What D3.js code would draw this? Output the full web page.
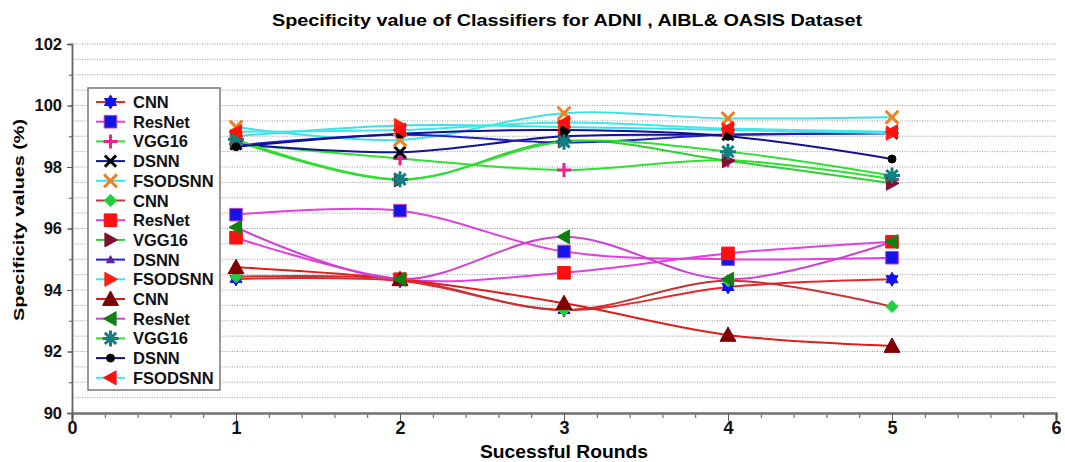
<!DOCTYPE html>
<html>
<head>
<meta charset="utf-8">
<script src="https://cdn.jsdelivr.net/npm/d3@7"></script>
<style>
  body { margin: 0; background: #fff; }
  svg text { font-family: "Liberation Sans", Arial, sans-serif; font-weight: bold; }
</style>
</head>
<body>
<svg id="chart" width="1065" height="462"></svg>
<script>
// rounds on the x axis
var rounds = [1, 2, 3, 4, 5];
var xTicks = [0, 1, 2, 3, 4, 5, 6];
var yTicks = [90, 92, 94, 96, 98, 100, 102];

var legendNames = ["CNN", "ResNet", "VGG16", "DSNN", "FSODSNN",
                   "CNN", "ResNet", "VGG16", "DSNN", "FSODSNN",
                   "CNN", "ResNet", "VGG16", "DSNN", "FSODSNN"];

// first set
var cnn1     = [94.36, 94.30, 93.35, 94.10, 94.35];
var resnet1  = [96.45, 96.58, 95.25, 95.00, 95.05];
var vgg1     = [98.75, 98.28, 97.90, 98.22, 97.60];
var dsnn1    = [98.75, 98.48, 99.00, 99.05, 99.10];
var fsodsnn1 = [99.30, 98.88, 99.75, 99.58, 99.62];
// second set
var cnn2     = [94.43, 94.35, 93.35, 94.30, 93.46];
var resnet2  = [95.70, 94.35, 94.56, 95.19, 95.57];
var vgg2     = [98.85, 97.58, 98.85, 98.20, 97.47];
var dsnn2    = [98.70, 99.05, 98.80, 99.05, 99.10];
var fsodsnn2 = [99.00, 99.35, 99.30, 99.20, 99.10];
// third set
var cnn3     = [94.74, 94.35, 93.57, 92.54, 92.18];
var resnet3  = [96.04, 94.35, 95.73, 94.35, 95.57];
var vgg3     = [98.90, 97.60, 98.82, 98.50, 97.72];
var dsnn3    = [98.66, 99.08, 99.20, 99.00, 98.26];
var fsodsnn3 = [99.15, 99.20, 99.45, 99.25, 99.15];

var allValues = [cnn1, resnet1, vgg1, dsnn1, fsodsnn1,
                 cnn2, resnet2, vgg2, dsnn2, fsodsnn2,
                 cnn3, resnet3, vgg3, dsnn3, fsodsnn3];

// line colour, marker type, marker fill, marker stroke
var styles = [
  {line: "#e8262b", mark: "star",    fill: "#1010f0", stroke: "#1010f0", r: 7},
  {line: "#e040e0", mark: "square",  fill: "#1414e8", stroke: "#c040c0", r: 7},
  {line: "#30e030", mark: "plus",    fill: "none",    stroke: "#f0208a", r: 7},
  {line: "#141490", mark: "x",       fill: "none",    stroke: "#000000", r: 7},
  {line: "#40e0e8", mark: "x",       fill: "none",    stroke: "#f08020", r: 8},
  {line: "#c83232", mark: "diamond", fill: "#20d040", stroke: "#20d040", r: 6},
  {line: "#e040e0", mark: "square",  fill: "#ff1010", stroke: "#ff1010", r: 7},
  {line: "#30d030", mark: "tright",  fill: "#801030", stroke: "#801030", r: 7},
  {line: "#2020d0", mark: "tup",     fill: "#6020a0", stroke: "#6020a0", r: 4},
  {line: "#40e0e8", mark: "tright",  fill: "#ff2010", stroke: "#ff2010", r: 7},
  {line: "#e01c1c", mark: "tup",     fill: "#800000", stroke: "#800000", r: 8},
  {line: "#d040d0", mark: "tleft",   fill: "#108010", stroke: "#108010", r: 7},
  {line: "#30e030", mark: "aster",   fill: "none",    stroke: "#108080", r: 8},
  {line: "#101090", mark: "circle",  fill: "#000000", stroke: "#000000", r: 4},
  {line: "#40e8e8", mark: "tleft",   fill: "#ff1010", stroke: "#ff1010", r: 7}
];

var svg = d3.select("#chart");
var margin = {left: 72, right: 1056, top: 44, bottom: 413};

var x = d3.scaleLinear().domain([0, 6]).range([margin.left, margin.right]);
var y = d3.scaleLinear().domain([90, 102]).range([margin.bottom, margin.top]);

// grid (dotted, every 0.5)
svg.append("g")
   .selectAll("line")
   .data(d3.range(90.5, 102.01, 0.5))
   .enter()
   .append("line")
   .attr("x1", margin.left)
   .attr("x2", margin.right)
   .attr("y1", d => y(d))
   .attr("y2", d => y(d))
   .attr("stroke", "#9a9a9a")
   .attr("stroke-width", 1)
   .attr("stroke-dasharray", "1,1.5");

// axes
var yMinor = svg.append("g")
   .attr("transform", "translate(" + margin.left + ",0)")
   .call(d3.axisLeft(y).tickValues(d3.range(90, 102.01, 1)).tickSize(3).tickFormat(""));
var yAxis = svg.append("g")
   .attr("transform", "translate(" + margin.left + ",0)")
   .call(d3.axisLeft(y).tickValues(yTicks).tickSize(5).tickFormat(d3.format("d")));
yAxis.selectAll("text").attr("font-size", 16.5).attr("fill", "#111").attr("dx", "-2");

var xMinor = svg.append("g")
   .attr("transform", "translate(0," + margin.bottom + ")")
   .call(d3.axisBottom(x).tickValues(d3.range(0, 6.001, 0.2)).tickSize(5).tickFormat(""));
var xAxis = svg.append("g")
   .attr("transform", "translate(0," + margin.bottom + ")")
   .call(d3.axisBottom(x).tickValues(xTicks).tickSize(8).tickFormat(d3.format("d")));
xAxis.selectAll("text").attr("font-size", 18).attr("fill", "#111").attr("dy", "0.55em");

[yMinor, yAxis, xMinor, xAxis].forEach(a => {
    a.selectAll(".domain").attr("stroke", "#666").attr("stroke-width", 1.5);
    a.selectAll(".tick line").attr("stroke", "#555");
});
xAxis.select(".domain").attr("stroke-width", 2.5).attr("stroke", "#777");

// title and axis titles
svg.append("text")
   .attr("x", 567).attr("y", 26)
   .attr("text-anchor", "middle")
   .attr("font-size", 16.5)
   .attr("textLength", 590).attr("lengthAdjust", "spacingAndGlyphs")
   .text("Specificity value of Classifiers for ADNI , AIBL& OASIS  Dataset");

svg.append("text")
   .attr("x", 564).attr("y", 458)
   .attr("text-anchor", "middle")
   .attr("font-size", 18)
   .attr("textLength", 168).attr("lengthAdjust", "spacingAndGlyphs")
   .text("Sucessful Rounds");

svg.append("text")
   .attr("transform", "translate(24,220) rotate(-90)")
   .attr("text-anchor", "middle")
   .attr("font-size", 15)
   .attr("textLength", 202).attr("lengthAdjust", "spacingAndGlyphs")
   .text("Specificity values  (%)");

// marker paths
function markerPath(type, r) {
    var p = d3.path(), i, a;
    if (type === "square") {
        p.rect(-r * 0.9, -r * 0.9, r * 1.8, r * 1.8);
    } else if (type === "diamond") {
        p.moveTo(0, -r); p.lineTo(r, 0); p.lineTo(0, r); p.lineTo(-r, 0); p.closePath();
    } else if (type === "tup") {
        p.moveTo(0, -r); p.lineTo(r, r * 0.8); p.lineTo(-r, r * 0.8); p.closePath();
    } else if (type === "tright") {
        p.moveTo(r, 0); p.lineTo(-r * 0.8, -r); p.lineTo(-r * 0.8, r); p.closePath();
    } else if (type === "tleft") {
        p.moveTo(-r, 0); p.lineTo(r * 0.8, -r); p.lineTo(r * 0.8, r); p.closePath();
    } else if (type === "star") {
        p.moveTo(0, -r); p.lineTo(r * 0.866, r / 2); p.lineTo(-r * 0.866, r / 2); p.closePath();
        p.moveTo(0, r); p.lineTo(-r * 0.866, -r / 2); p.lineTo(r * 0.866, -r / 2); p.closePath();
    } else if (type === "circle") {
        p.arc(0, 0, r, 0, 2 * Math.PI);
    } else if (type === "plus") {
        p.moveTo(-r, 0); p.lineTo(r, 0); p.moveTo(0, -r); p.lineTo(0, r);
    } else if (type === "x") {
        p.moveTo(-r * 0.8, -r * 0.8); p.lineTo(r * 0.8, r * 0.8);
        p.moveTo(-r * 0.8, r * 0.8); p.lineTo(r * 0.8, -r * 0.8);
    } else if (type === "aster") {
        for (i = 0; i < 8; i++) {
            a = i * Math.PI / 4;
            p.moveTo(0, 0); p.lineTo(r * Math.cos(a), r * Math.sin(a));
        }
    }
    return p.toString();
}

function strokeWidth(type) {
    if (type === "x" || type === "plus") return 3;
    if (type === "aster") return 3;
    return 1;
}

function drawMarker(g, st, cx, cy) {
    g.append("path")
     .attr("transform", "translate(" + cx + "," + cy + ")")
     .attr("d", markerPath(st.mark, st.r))
     .attr("fill", st.fill)
     .attr("fill-rule", "nonzero")
     .attr("stroke", st.stroke)
     .attr("stroke-width", strokeWidth(st.mark));
    if (st.mark === "aster") {
        g.append("circle")
         .attr("cx", cx).attr("cy", cy).attr("r", 3.5)
         .attr("fill", st.stroke);
    }
}

// lines
var line = d3.line()
             .x((d, i) => x(rounds[i]))
             .y(d => y(d))
             .curve(d3.curveCatmullRom.alpha(0.5));

svg.append("g")
   .selectAll("path")
   .data(allValues)
   .enter()
   .append("path")
   .attr("d", line)
   .attr("fill", "none")
   .attr("stroke", (d, i) => styles[i].line)
   .attr("stroke-width", 2);

// markers
var markG = svg.append("g");
allValues.forEach((vals, i) => {
    vals.forEach((v, j) => drawMarker(markG, styles[i], x(rounds[j]), y(v)));
});

// legend
var legend = svg.append("g");
legend.append("rect")
      .attr("x", 88).attr("y", 88)
      .attr("width", 132).attr("height", 302)
      .attr("fill", "#fff")
      .attr("stroke", "#777")
      .attr("stroke-width", 1.5);

legendNames.forEach((name, i) => {
    var ly = 102 + i * 19.7;
    legend.append("line")
          .attr("x1", 96).attr("x2", 125)
          .attr("y1", ly).attr("y2", ly)
          .attr("stroke", styles[i].line)
          .attr("stroke-width", 2);
    drawMarker(legend, styles[i], 110.5, ly);
    legend.append("text")
          .attr("x", 133).attr("y", ly + 6)
          .attr("font-size", 16.5)
          .attr("fill", "#111")
          .text(name);
});
</script>
</body>
</html>
